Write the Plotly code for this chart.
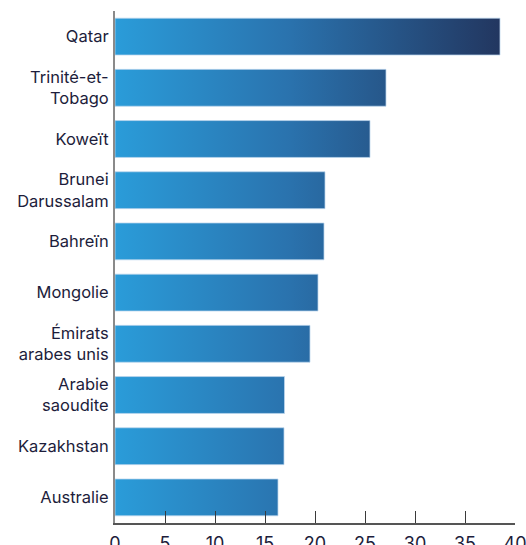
import plotly.graph_objects as go

countries = ["Qatar", "Trinité-et-<br>Tobago", "Koweït", "Brunei<br>Darussalam", "Bahreïn",
             "Mongolie", "Émirats<br>arabes unis", "Arabie<br>saoudite", "Kazakhstan", "Australie"]
values = [38.5, 27.1, 25.5, 21.0, 20.9, 20.3, 19.5, 16.95, 16.9, 16.3]
x_ticks = [0, 5, 10, 15, 20, 25, 30, 35, 40]

half = 0.36
xs, ys = [], []
for i, v in enumerate(values):
    xs += [0, v, v, 0, 0, None]
    ys += [i - half, i - half, i + half, i + half, i - half, None]

fig = go.Figure()
fig.add_trace(go.Scatter(
    x=xs, y=ys, mode="lines", fill="toself",
    line=dict(color="rgba(190,215,238,0.75)", width=1),
    fillgradient=dict(type="horizontal",
                      colorscale=[[0, "#2a9cd9"], [0.45, "#2a72ad"], [1, "#22355e"]],
                      start=0, stop=39),
    hoverinfo="skip", showlegend=False,
))

font = dict(family="Inter, Lato, sans-serif", size=16.5, color="#1d1d3b")
fig.update_layout(
    width=526, height=545,
    margin=dict(l=115, r=11, t=11, b=22, autoexpand=False),
    plot_bgcolor="white", paper_bgcolor="white",
    font=font,
    xaxis=dict(range=[0, 40], tickvals=x_ticks, ticks="inside", ticklen=12,
               tickcolor="#3a3a3a", tickwidth=1.2, showgrid=False, zeroline=False,
               showline=True, linecolor="#555555", linewidth=1.5, automargin=False,
               ticklabelstandoff=4, ticklabeloverflow="allow",
               tickfont=dict(size=18, color="#1d1d3b")),
    yaxis=dict(range=[9.5, -0.5], tickvals=list(range(len(countries))), ticktext=countries,
               showgrid=False, zeroline=False, showline=True, linecolor="#8a8a8a",
               linewidth=2, ticks="", ticklabelstandoff=1, automargin=False),
)
fig.write_html("out.html")
